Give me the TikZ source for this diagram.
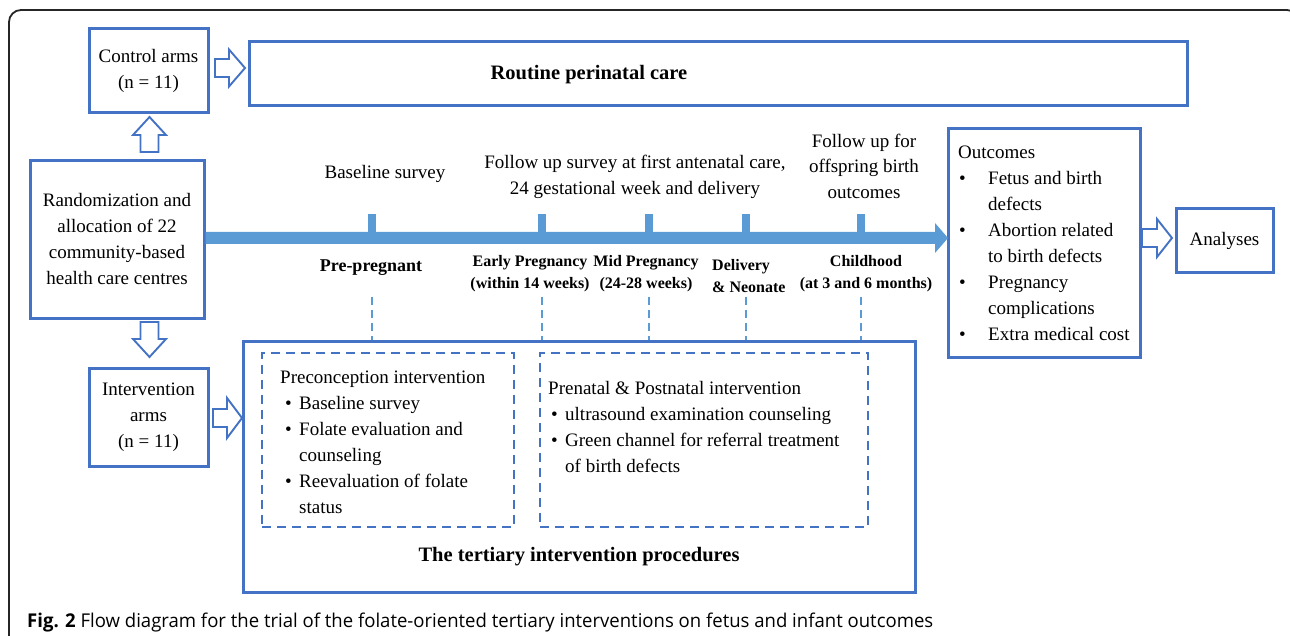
\documentclass[tikz,border=0pt]{standalone}
\usepackage{fontspec}
\usepackage{graphicx}
\setmainfont{Liberation Serif}
\newfontfamily\capfont{Open Sans}
\usetikzlibrary{calc}
\definecolor{bblue}{HTML}{4472C4}
\definecolor{lblue}{HTML}{5B9BD5}
\newcommand\rfont{\fontsize{19}{26}\selectfont}
\newcommand\lfont{\fontsize{16}{22}\selectfont\bfseries}
\newcommand\tfont{\fontsize{20.5}{24}\selectfont\bfseries}
\newcommand\blt[1]{\makebox[#1][l]{\textbullet}}
\newcommand\hollowarrow[5]{%
  \draw[harrow, shift={#1}, rotate=#2] (0,-9) -- (#3,-9) -- (#3,-#5) -- ({#3+#4},0) -- (#3,#5) -- (#3,9) -- (0,9) -- cycle;}
\begin{document}
\begin{tikzpicture}[x=1pt,y=-1pt,
  box/.style={draw=bblue, line width=3pt, inner sep=0pt, align=center, font=\rfont},
  dbox/.style={draw=bblue, line width=2.6pt, dash pattern=on 9pt off 6pt, inner sep=0pt},
  txt/.style={inner sep=0pt, font=\rfont, align=center},
  lbl/.style={inner sep=0pt, font=\lfont, align=center},
  blk/.style={inner sep=0pt, font=\rfont, align=left, anchor=north west},
  harrow/.style={draw=bblue, line width=1.9pt, fill=white, line join=miter},
  vline/.style={draw=lblue, line width=2.4pt, dash pattern=on 8pt off 5pt},
  tickmark/.style={fill=lblue, draw=none},
  frame/.style={draw=black!85, line width=1.8pt, rounded corners=12pt}
]
\useasboundingbox (0,0) rectangle (1290,636);
% outer frame
\draw[frame] (9,645) -- (9,10) -- (1299,10) -- (1299,645);

% boxes
\node[box, minimum width=119pt, minimum height=84pt] (ctrl) at (148.5,71) {Control arms\\(n = 11)};
\node[box, minimum width=938pt, minimum height=64pt] (routine) at (718,74) {};
\node[inner sep=0pt, font=\tfont] (routineT) at (589,75) {Routine perinatal care};
\node[box, minimum width=174pt, minimum height=157pt] (rand) at (117,239.5) {Randomization and\\allocation of 22\\community-based\\health care centres};
\node[box, minimum width=119pt, minimum height=98pt] (interv) at (148.5,417) {Intervention\\arms\\(n = 11)};
\node[box, minimum width=672pt, minimum height=251pt] (tert) at (579,466.5) {};
\node[inner sep=0pt, font=\tfont] (tertT) at (579,557) {The tertiary intervention procedures};
\node[dbox, minimum width=252pt, minimum height=174pt] (dash1) at (388,440) {};
\node[dbox, minimum width=328pt, minimum height=174pt] (dash2) at (704,440) {};
\node[box, minimum width=192pt, minimum height=228pt] (outc) at (1044,243) {};
\node[box, minimum width=97pt, minimum height=64pt] (anal) at (1224.5,240.5) {Analyses};

% block texts
\node[blk] (preT) at (280,371) {Preconception intervention\\
\hspace*{5pt}\blt{14pt}Baseline survey\\
\hspace*{5pt}\blt{14pt}Folate evaluation and\\
\hspace*{19pt}counseling\\
\hspace*{5pt}\blt{14pt}Reevaluation of folate\\
\hspace*{19pt}status};
\node[blk] (postT) at (548,381) {Prenatal \& Postnatal intervention\\
\hspace*{3pt}\blt{14pt}ultrasound examination counseling\\
\hspace*{3pt}\blt{14pt}Green channel for referral treatment\\
\hspace*{17pt}of birth defects};
\node[blk] (outcT) at (958,146) {Outcomes\\
\hspace*{1pt}\blt{29pt}Fetus and birth\\
\hspace*{30pt}defects\\
\hspace*{1pt}\blt{29pt}Abortion related\\
\hspace*{30pt}to birth defects\\
\hspace*{1pt}\blt{29pt}Pregnancy\\
\hspace*{30pt}complications\\
\hspace*{1pt}\blt{29pt}Extra medical cost};

% timeline
\coordinate (tl0) at (rand.east |- 0,238);
\coordinate (tl1) at (948,238);
\fill[lblue] (tl0) ++(0,-6) -- (935,232) -- (935,223) -- (tl1) -- (935,253) -- (935,244) -- ($(tl0)+(0,6)$) -- cycle;
\foreach \x/\n in {372/1,542/2,649/3,746/4,861/5}{
  \fill[tickmark] (\x-4,214) rectangle (\x+4,233);
  \coordinate (d\n) at (\x,297);
  \draw[vline] (d\n) -- (d\n |- tert.north);
}

% timeline labels
\node[txt] (lbBase) at (385,174) {Baseline survey};
\node[txt] (lbFu) at (635,177) {Follow up survey at first antenatal care,\\24 gestational week and delivery};
\node[txt, font=\fontsize{19}{25.5}\selectfont] (lbOff) at (864,166) {Follow up for\\offspring birth\\outcomes};
\node[lbl, font=\fontsize{18}{22}\selectfont\bfseries] (lbPre) at (371,268) {Pre-pregnant};
\node[lbl] (lbEarly) at (530,274) {Early Pregnancy\\(within 14 weeks)};
\node[lbl] (lbMid) at (646,274) {Mid Pregnancy\\(24-28 weeks)};
\node[lbl, align=left, anchor=west] (lbDel) at (712,276) {Delivery\\\& Neonate};
\node[lbl] (lbChild) at (866,274) {Childhood\\(at 3 and 6 months)};

% hollow block arrows
\hollowarrow{(215,68)}{0}{14}{16}{18.5}
\hollowarrow{(149.5,152)}{90}{17}{18}{16.5}
\hollowarrow{(149.5,322)}{-90}{17}{18}{16.5}
\hollowarrow{(213,418)}{0}{14}{15}{20}
\hollowarrow{(1142,238)}{0}{15}{15}{19}

% caption
\node[anchor=base west, inner sep=0pt, font=\capfont\fontsize{19}{22}\selectfont] (cap) at (27,627)
  {\resizebox{906pt}{\height}{\textbf{Fig. 2} Flow diagram for the trial of the folate-oriented tertiary interventions on fetus and infant outcomes}};
\end{tikzpicture}
\end{document}
